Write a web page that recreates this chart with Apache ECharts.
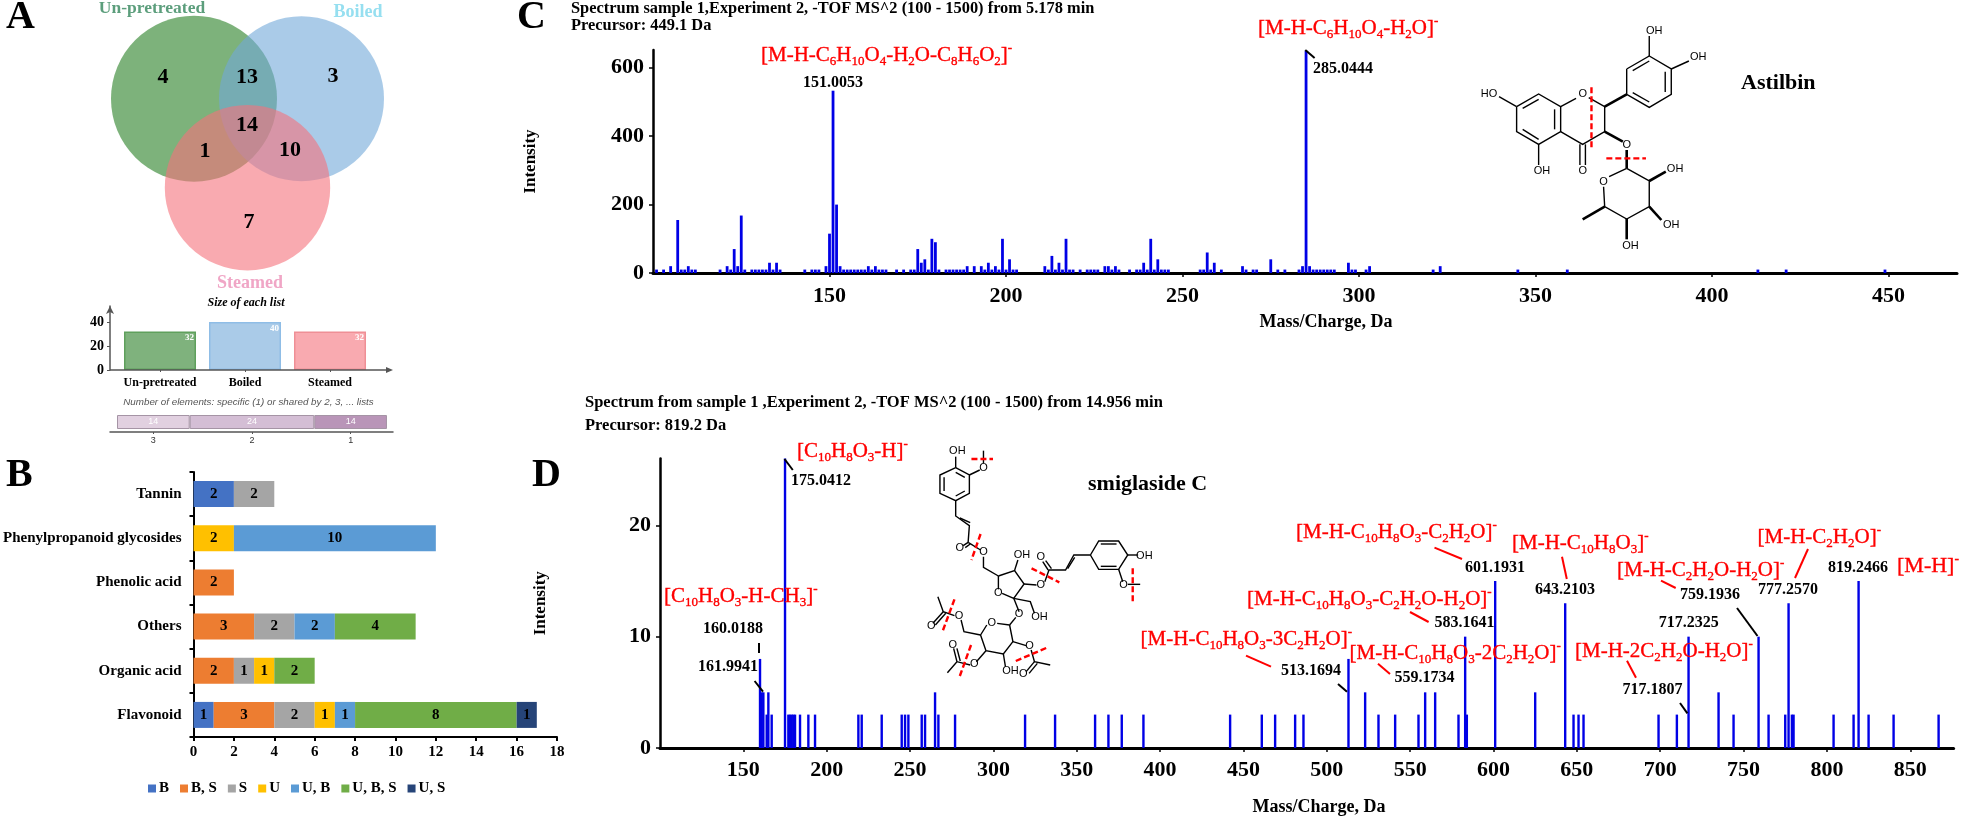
<!DOCTYPE html>
<html>
<head>
<meta charset="utf-8">
<title>Figure</title>
<script src="https://cdn.jsdelivr.net/npm/echarts@6/dist/echarts.min.js"></script>
<style>
html, body { margin: 0; padding: 0; background: #fff; }
#chart { width: 1963px; height: 818px; }
</style>
</head>
<body>
<div id="chart"></div>
<script>
// panel A
const vennCounts = { u: 4, ub: 13, b: 3, ubs: 14, us: 1, bs: 10, s: 7 };
const listNames = ["Un-pretreated", "Boiled", "Steamed"];
const listSizes = [32, 40, 32];
const sharedCounts = [14, 24, 14];
const sharedLabels = ["3", "2", "1"];

// panel B
const classNames = ["Flavonoid", "Organic acid", "Others", "Phenolic acid", "Phenylpropanoid glycosides", "Tannin"];
const groupNames = ["B", "B, S", "S", "U", "U, B", "U, B, S", "U, S"];
const groupB = [1, 0, 0, 0, 0, 2];
const groupBS = [3, 2, 3, 2, 0, 0];
const groupS = [2, 1, 2, 0, 0, 2];
const groupU = [1, 1, 0, 0, 2, 0];
const groupUB = [1, 0, 2, 0, 10, 0];
const groupUBS = [8, 2, 4, 0, 0, 0];
const groupUS = [1, 0, 0, 0, 0, 0];

// panel C, astilbin
const astilbinMz = [101, 103, 105, 107, 108, 109, 110, 111, 112, 119, 121, 122, 123, 124, 125, 126, 128, 129, 130, 131, 132, 133, 134, 135, 136,
  143, 145, 146, 147, 149, 150, 151, 152, 153, 154, 155, 156, 157, 158, 159, 160, 161, 162, 163, 164, 165, 166,
  169, 171, 173, 174, 175, 176, 177, 178, 179, 180, 181, 183, 184, 185, 186, 187, 188, 189, 191, 193, 194, 195, 196, 197, 198, 199, 200, 201, 202, 203,
  211, 212, 213, 214, 215, 216, 217, 218, 219, 221, 223, 224, 225, 226, 228, 229, 230, 231, 232, 235, 237, 238, 239, 240, 241, 242, 243, 244, 245, 246,
  255, 256, 257, 258, 259, 261, 267, 268, 270, 271, 275, 277, 279, 283, 284, 285, 286, 287, 288, 289, 290, 291, 292, 293, 297, 298, 299, 302, 303,
  321, 323, 345, 359, 413, 421, 449];
const astilbinIntensity = [10, 10, 20, 155, 10, 10, 20, 10, 10, 10, 20, 10, 70, 20, 168, 10, 10, 10, 10, 10, 10, 30, 10, 30, 10,
  10, 10, 10, 10, 20, 115, 533, 200, 20, 10, 10, 10, 10, 10, 10, 10, 20, 10, 20, 10, 10, 10,
  10, 10, 10, 10, 70, 30, 40, 10, 100, 90, 10, 10, 10, 10, 10, 10, 10, 20, 20, 20, 10, 30, 10, 20, 10, 100, 10, 40, 10, 10,
  20, 10, 50, 10, 30, 10, 100, 10, 10, 10, 10, 10, 10, 10, 20, 20, 10, 20, 10, 10, 10, 10, 30, 10, 100, 10, 40, 10, 10, 10,
  10, 10, 60, 10, 30, 10, 20, 10, 10, 10, 40, 10, 10, 10, 20, 650, 20, 10, 10, 10, 10, 10, 10, 10, 30, 10, 10, 10, 20,
  10, 20, 10, 10, 10, 10, 10];

// panel D, smiglaside C
const smiglasideMz = [160, 161, 162, 164, 165, 167, 175, 177, 178, 179, 180, 181, 184, 189, 193, 219, 221, 233, 245, 247, 249, 257, 259, 265, 267, 277,
  319, 337, 361, 369, 377, 390, 442, 461, 469, 481, 486, 513, 523, 531, 541, 555, 559, 565, 579, 583, 584, 601, 625, 643, 648, 651, 654,
  699, 710, 717, 735, 744, 759, 765, 775, 777, 779, 780, 804, 816, 819, 825, 840, 867];
const smiglasideIntensity = [8, 5, 5, 3, 5, 3, 26, 3, 3, 3, 3, 3, 3, 3, 3, 3, 3, 3, 3, 3, 3, 3, 3, 5, 3, 3,
  3, 3, 3, 3, 3, 3, 3, 3, 3, 3, 3, 8, 5, 3, 3, 3, 5, 5, 3, 10, 3, 15, 5, 13, 3, 3, 3,
  3, 3, 10, 5, 3, 10, 3, 3, 13, 3, 3, 3, 3, 15, 3, 3, 3];

const serif = "Liberation Serif";
const sans = "Liberation Sans";
const black = "#000";
const red = "#ff0000";
const blue = "#0000e6";

function zip(xs, ys) {
  return xs.map((x, i) => [x, ys[i]]);
}

// text like [M-H-C_10H_8O_3]^- becomes rich text with sub and superscripts
function formula(str, x, y, size) {
  let fs = size || 21;
  let text = str.replace(/_(\d+)/g, "{s|$1}").replace(/\^-/g, "{p|-}");
  let parts = text.split(/(\{[sp]\|[^}]*\})/).filter(Boolean).map((p) => (p[0] === "{" ? p : "{n|" + p + "}"));
  let ink = { fill: red, stroke: red, lineWidth: 0.35, fontFamily: serif };
  return {
    type: "text", x: x, y: y, z: 30,
    style: {
      text: parts.join(""), align: "left", verticalAlign: "middle",
      rich: {
        n: { ...ink, fontSize: fs, lineHeight: fs + 6, verticalAlign: "middle" },
        s: { ...ink, fontSize: fs * 0.62, lineHeight: fs * 0.62, verticalAlign: "bottom" },
        p: { ...ink, fontSize: fs * 0.62, lineHeight: fs * 0.62, verticalAlign: "top" }
      }
    }
  };
}

function label(str, x, y, size, opts) {
  let o = opts || {};
  return {
    type: "text", x: x, y: y, z: 30,
    style: {
      text: str, align: o.align || "left", verticalAlign: "middle",
      fontFamily: o.family || serif, fontSize: size,
      fontWeight: o.weight || "bold", fontStyle: o.style || "normal", fill: o.color || black
    }
  };
}

function leader(x1, y1, x2, y2, color, width) {
  return {
    type: "line", z: 30,
    shape: { x1: x1, y1: y1, x2: x2, y2: y2 },
    style: { stroke: color || black, lineWidth: width || 2 }
  };
}

function circle(cx, cy, r, color) {
  return { type: "circle", z: 5, shape: { cx: cx, cy: cy, r: r }, style: { fill: color } };
}

// structure drawings, read in crop coordinates and mapped back to the page
function structure(conv, bonds, thick, cuts, atoms) {
  let out = [];
  bonds.forEach((b) => {
    let pts = [];
    for (let i = 0; i < b.length; i += 2) pts.push(conv(b[i], b[i + 1]));
    out.push({ type: "polyline", z: 20, shape: { points: pts }, style: { stroke: black, lineWidth: 1.4, fill: null } });
  });
  thick.forEach((b) => {
    let p = conv(b[0], b[1]), q = conv(b[2], b[3]);
    out.push({ type: "line", z: 20, shape: { x1: p[0], y1: p[1], x2: q[0], y2: q[1] }, style: { stroke: black, lineWidth: 2.6 } });
  });
  cuts.forEach((b) => {
    let p = conv(b[0], b[1]), q = conv(b[2], b[3]);
    out.push({ type: "line", z: 21, shape: { x1: p[0], y1: p[1], x2: q[0], y2: q[1] }, style: { stroke: red, lineWidth: 2.4, lineDash: [6, 3] } });
  });
  atoms.forEach((a) => {
    let p = conv(a[1], a[2]);
    out.push({
      type: "text", x: p[0], y: p[1], z: 22,
      style: { text: a[0], align: "center", verticalAlign: "middle", fontFamily: sans, fontSize: 11, fill: black }
    });
  });
  return out;
}

const astilbinGraphic = structure(
  (x, y) => [1100 + x / 1.817, y / 3],
  [
    [757, 320, 797, 282, 837, 320, 837, 395, 797, 433, 757, 395, 757, 320],
    [768, 325, 797, 298], [826, 328, 826, 388], [768, 388, 797, 418],
    [837, 320, 865, 295], [888, 293, 917, 320, 917, 395, 877, 433, 837, 395],
    [872, 433, 872, 495], [882, 433, 882, 495],
    [725, 290, 757, 320], [797, 433, 797, 495],
    [957, 207, 998, 168, 1038, 207, 1038, 283, 998, 322, 957, 283, 957, 207],
    [968, 212, 998, 183], [1027, 215, 1027, 276], [968, 278, 998, 306],
    [998, 168, 998, 108], [1038, 207, 1070, 183],
    [957, 505, 998, 543, 998, 620, 957, 657, 917, 620, 915, 560], [957, 505, 925, 530]
  ],
  [[917, 320, 957, 283], [917, 395, 950, 425], [957, 450, 957, 505], [998, 543, 1028, 515], [998, 620, 1020, 660], [957, 657, 957, 718], [917, 620, 877, 658]],
  [[893, 262, 893, 450], [920, 475, 992, 475]],
  [["HO", 707, 283], ["O", 877, 283], ["OH", 803, 513], ["O", 877, 512], ["OH", 1007, 92], ["OH", 1087, 170], ["O", 957, 435], ["O", 915, 545],
    ["OH", 1045, 506], ["OH", 1038, 675], ["OH", 964, 737]]
);

const smiglasideGraphic = structure(
  (x, y) => [510 + x / 2.412, 380 + y / 3],
  [
    [1075, 263, 1108, 285, 1108, 340, 1075, 362, 1037, 340, 1037, 285, 1075, 263],
    [1075, 277, 1097, 292], [1097, 333, 1075, 348], [1047, 292, 1047, 333],
    [1075, 263, 1075, 230], [1108, 285, 1133, 270], [1142, 250, 1142, 212],
    [1075, 362, 1075, 408, 1108, 437, 1105, 487], [1085, 414, 1110, 428],
    [1105, 487, 1093, 497], [1110, 492, 1098, 503], [1105, 487, 1135, 510],
    [1142, 530, 1142, 562, 1178, 588],
    [1178, 588, 1217, 572, 1240, 612, 1215, 655, 1187, 640], [1178, 588, 1178, 628],
    [1217, 572, 1225, 540], [1240, 612, 1270, 615],
    [1290, 605, 1300, 570, 1340, 570, 1360, 525, 1400, 525],
    [1298, 570, 1285, 545], [1306, 566, 1292, 542], [1345, 566, 1362, 532],
    [1400, 525, 1420, 483, 1468, 483, 1490, 525, 1468, 568, 1420, 568, 1400, 525],
    [1425, 492, 1463, 492], [1425, 559, 1463, 559], [1490, 525, 1515, 525],
    [1468, 568, 1478, 605], [1490, 613, 1520, 613],
    [1215, 655, 1255, 665, 1265, 700], [1215, 655, 1228, 695], [1220, 712, 1205, 735],
    [1205, 735, 1175, 730], [1150, 735, 1135, 765, 1148, 812, 1190, 822, 1213, 785, 1205, 735],
    [1135, 765, 1095, 755, 1088, 720], [1072, 707, 1045, 695, 1032, 650], [1045, 695, 1020, 730], [1051, 700, 1026, 735],
    [1148, 812, 1125, 845], [1110, 855, 1078, 845, 1055, 878], [1078, 845, 1070, 805], [1086, 843, 1078, 805],
    [1190, 822, 1195, 860], [1213, 785, 1245, 797], [1257, 810, 1265, 845, 1303, 855], [1265, 845, 1245, 875], [1272, 850, 1252, 880]
  ],
  [],
  [[1113, 237, 1165, 237], [1135, 462, 1113, 540], [1258, 565, 1325, 607], [1502, 565, 1502, 665], [1072, 658, 1044, 752], [1112, 795, 1085, 888], [1220, 843, 1297, 802]],
  [["OH", 1079, 213], ["O", 1142, 263], ["O", 1085, 505], ["O", 1142, 515], ["OH", 1235, 526], ["O", 1178, 640], ["O", 1280, 615], ["O", 1280, 530],
    ["OH", 1530, 527], ["O", 1480, 615], ["OH", 1277, 710], ["O", 1228, 703], ["O", 1162, 730], ["O", 1083, 707], ["O", 1016, 737], ["O", 1120, 851],
    ["O", 1068, 795], ["OH", 1207, 872], ["O", 1253, 797], ["O", 1238, 882]]
);

const vennLabels = [
  [vennCounts.u, 163, 77], [vennCounts.ub, 247, 77], [vennCounts.b, 333, 76],
  [vennCounts.ubs, 247, 125], [vennCounts.us, 205, 151], [vennCounts.bs, 290, 150], [vennCounts.s, 249, 222]
].map((v) => label(String(v[0]), v[1], v[2], 22, { align: "center" }));

const graphics = [
  label("A", 6, 18, 40), label("B", 6, 476, 40), label("C", 517, 18, 40), label("D", 532, 476, 40),

  circle(194, 98.7, 83, "rgba(56,137,52,0.65)"),
  circle(301.5, 98.7, 82.5, "rgba(113,168,217,0.6)"),
  circle(247.5, 187.7, 82.7, "rgba(245,113,123,0.6)"),
  label("Un-pretreated", 152, 8, 17.5, { align: "center", color: "#5c9e7c" }),
  label("Boiled", 358, 12, 18, { align: "center", color: "#96dff0" }),
  label("Steamed", 250, 283, 18, { align: "center", color: "#f0a6c6" }),
  ...vennLabels,

  label("Size of each list", 246, 303, 12, { align: "center", style: "italic" }),
  { type: "polyline", z: 10, shape: { points: [[110, 370], [388, 370]] }, style: { stroke: "#555", lineWidth: 1.5, fill: null } },
  { type: "polygon", z: 10, shape: { points: [[386, 367], [393, 370], [386, 373]] }, style: { fill: "#555" } },
  label("Number of elements: specific (1) or shared by 2, 3, ... lists", 248.5, 402, 9.8,
    { align: "center", family: sans, weight: "normal", style: "italic", color: "#555" }),

  label("Spectrum sample 1,Experiment 2, -TOF MS^2 (100 - 1500) from 5.178 min", 571, 9, 16.4),
  label("Precursor: 449.1 Da", 571, 26, 16.4),
  formula("[M-H-C_6H_10O_4-H_2O-C_8H_6O_2]^-", 761, 55),
  formula("[M-H-C_6H_10O_4-H_2O]^-", 1258, 28),
  label("151.0053", 803, 83, 16),
  label("285.0444", 1313, 69, 16),
  leader(1305.3, 50, 1314.6, 58),
  label("Astilbin", 1741, 83, 22),
  label("Mass/Charge, Da", 1326, 322, 18, { align: "center" }),
  ...astilbinGraphic,

  label("Spectrum from sample 1 ,Experiment 2, -TOF MS^2 (100 - 1500) from 14.956 min", 585, 403, 16.5),
  label("Precursor: 819.2 Da", 585, 426, 16.5),
  formula("[C_10H_8O_3-H]^-", 797, 451),
  label("175.0412", 791, 481, 16),
  leader(784.5, 459, 792.8, 470),
  label("smiglaside C", 1088, 484, 22),
  formula("[C_10H_8O_3-H-CH_3]^-", 664, 596),
  label("160.0188", 703, 629, 16),
  leader(759, 643, 759, 653),
  label("161.9941", 698, 667, 16),
  leader(754.6, 681, 763, 691.7),

  formula("[M-H-C_10H_8O_3-C_2H_2O]^-", 1296, 532),
  leader(1434.5, 547.7, 1462, 559, red),
  label("601.1931", 1465, 568, 16),
  formula("[M-H-C_10H_8O_3]^-", 1512, 543),
  leader(1562, 556.7, 1566.8, 579, red),
  label("643.2103", 1535, 590, 16),
  formula("[M-H-C_2H_2O]^-", 1757.5, 537),
  leader(1808, 549, 1795, 578, red),
  formula("[M-H-C_2H_2O-H_2O]^-", 1617, 570),
  leader(1661, 580.7, 1675.7, 588, red),
  label("759.1936", 1680, 595, 16),
  label("777.2570", 1758, 590, 16),
  label("819.2466", 1828, 568, 16),
  formula("[M-H]^-", 1897, 566, 22),
  formula("[M-H-C_10H_8O_3-C_2H_2O-H_2O]^-", 1247, 599),
  leader(1410, 612, 1428.6, 622, red),
  label("583.1641", 1434.5, 623, 16),
  label("717.2325", 1658.7, 623, 16),
  leader(1737, 608, 1757.5, 636),
  formula("[M-H-C_10H_8O_3-3C_2H_2O]^-", 1140.6, 639),
  leader(1246, 655.7, 1271, 666.7, red),
  label("513.1694", 1281, 671, 16),
  leader(1338, 684, 1347, 691.7),
  formula("[M-H-C_10H_8O_3-2C_2H_2O]^-", 1349.5, 653),
  leader(1378, 663.7, 1390, 674, red),
  label("559.1734", 1394.6, 678, 16),
  formula("[M-H-2C_2H_2O-H_2O]^-", 1575, 651),
  leader(1627, 660.7, 1636, 677.7, red),
  label("717.1807", 1622.6, 690, 16),
  leader(1680, 703, 1687.4, 713.3),
  label("Mass/Charge, Da", 1319, 807, 18, { align: "center" }),
  ...smiglasideGraphic
];

const groupColors = ["#4472c4", "#ed7d31", "#a5a5a5", "#ffc000", "#5b9bd5", "#70ad47", "#264478"];
const groupValues = [groupB, groupBS, groupS, groupU, groupUB, groupUBS, groupUS];
const listColors = ["#7fb27d", "#aacbe8", "#f9aab0"];
const listBorders = ["#5fa05c", "#8fbde6", "#ef8f96"];
const sharedColors = ["#e1d0e0", "#d4bed5", "#b995b8"];

function tickText(size) {
  return { fontFamily: serif, fontWeight: "bold", fontSize: size, color: black };
}

let run = 0;
const sharedCenters = sharedCounts.map((c) => { let m = run + c / 2; run += c; return m; });

let option = {
  animation: false,
  backgroundColor: "#fff",
  textStyle: { fontFamily: serif },
  graphic: graphics,
  legend: {
    left: 143, top: 776, itemWidth: 8, itemHeight: 8, itemGap: 11, icon: "rect",
    data: groupNames,
    textStyle: { fontFamily: serif, fontWeight: "bold", fontSize: 15, color: black, padding: [0, 0, 0, -2] }
  },
  grid: [
    { left: 117.5, top: 306, width: 255, height: 64 },
    { left: 110, top: 415, width: 283, height: 14 },
    { left: 188, top: 472, width: 369, height: 265 },
    { left: 653, top: 50, width: 1304, height: 223 },
    { left: 660, top: 458.5, width: 1293.6, height: 289.5 }
  ],
  xAxis: [
    {
      gridIndex: 0, type: "category", data: listNames,
      axisLine: { show: false },
      axisTick: { show: true, alignWithLabel: true, length: 2, lineStyle: { color: "#555" } },
      axisLabel: { ...tickText(12), margin: 7, interval: 0 }
    },
    {
      gridIndex: 1, type: "value", min: -1.35, max: 53.16, offset: 3,
      splitLine: { show: false },
      axisLine: { show: true, lineStyle: { color: "#555", width: 1.5 } },
      axisTick: { show: true, length: 2, customValues: sharedCenters, lineStyle: { color: "#555" } },
      axisLabel: {
        customValues: sharedCenters, margin: 4,
        fontFamily: sans, fontSize: 9, color: "#333",
        formatter: (v) => sharedLabels[sharedCenters.indexOf(v)] || ""
      }
    },
    {
      gridIndex: 2, type: "value", min: 0, max: 18, interval: 2,
      splitLine: { show: false },
      axisLine: { show: true, lineStyle: { color: black, width: 2 } },
      axisTick: { show: true, length: 4, lineStyle: { color: black, width: 2 } },
      axisLabel: { ...tickText(15), margin: 8 }
    },
    {
      gridIndex: 3, type: "value", min: 100, max: 469.4,
      splitLine: { show: false },
      axisLine: { lineStyle: { color: black, width: 3 } },
      axisTick: { show: true, length: 4, customValues: [150, 200, 250, 300, 350, 400, 450], lineStyle: { color: black, width: 1.5 } },
      axisLabel: { ...tickText(22), margin: 12, customValues: [150, 200, 250, 300, 350, 400, 450] }
    },
    {
      gridIndex: 4, type: "value", min: 100, max: 876,
      splitLine: { show: false },
      axisLine: { lineStyle: { color: black, width: 3 } },
      axisTick: { show: true, length: 4, customValues: [150, 200, 250, 300, 350, 400, 450, 500, 550, 600, 650, 700, 750, 800, 850], lineStyle: { color: black, width: 1.5 } },
      axisLabel: { ...tickText(22), margin: 11, customValues: [150, 200, 250, 300, 350, 400, 450, 500, 550, 600, 650, 700, 750, 800, 850] }
    }
  ],
  yAxis: [
    {
      gridIndex: 0, type: "value", min: 0, max: 53.33, offset: 7.5,
      splitLine: { show: false },
      axisLine: { show: true, symbol: ["none", "arrow"], symbolSize: [6, 8], lineStyle: { color: "#555", width: 1.5 } },
      axisTick: { show: true, length: 3, customValues: [0, 20, 40], lineStyle: { color: "#555" } },
      axisLabel: { ...tickText(14), margin: 6, customValues: [0, 20, 40] }
    },
    { gridIndex: 1, type: "category", data: ["n"], show: false },
    {
      gridIndex: 2, type: "category", data: classNames,
      axisLine: { show: true, lineStyle: { color: black, width: 2 } },
      axisTick: { show: true, length: 4, lineStyle: { color: black, width: 2 } },
      axisLabel: { ...tickText(15), margin: 12 }
    },
    {
      gridIndex: 3, type: "value", min: 0, max: 652,
      name: "Intensity", nameLocation: "middle", nameGap: 114,
      nameTextStyle: tickText(17),
      splitLine: { show: false },
      axisLine: { show: true, lineStyle: { color: black, width: 2.5 } },
      axisTick: { show: true, length: 4, customValues: [0, 200, 400, 600], lineStyle: { color: black, width: 1.5 } },
      axisLabel: { ...tickText(22), margin: 9, customValues: [0, 200, 400, 600] }
    },
    {
      gridIndex: 4, type: "value", min: 0, max: 26,
      name: "Intensity", nameLocation: "middle", nameGap: 111,
      nameTextStyle: tickText(17),
      splitLine: { show: false },
      axisLine: { show: true, lineStyle: { color: black, width: 2.5 } },
      axisTick: { show: true, length: 4, customValues: [0, 10, 20], lineStyle: { color: black, width: 1.5 } },
      axisLabel: { ...tickText(22), margin: 9, customValues: [0, 10, 20] }
    }
  ],
  series: [
    {
      type: "bar", xAxisIndex: 0, yAxisIndex: 0, barWidth: 72,
      data: listSizes.map((v, i) => ({
        value: v,
        itemStyle: { color: listColors[i], borderColor: listBorders[i], borderWidth: 1.5 }
      })),
      label: { show: true, position: "insideTopRight", distance: 2, color: "#fff", fontFamily: serif, fontWeight: "bold", fontSize: 9 }
    },
    ...sharedCounts.map((c, i) => ({
      type: "bar", xAxisIndex: 1, yAxisIndex: 1, stack: "shared", barWidth: 14,
      data: [c],
      itemStyle: { color: sharedColors[i], borderColor: "#a594a5", borderWidth: 1 },
      label: { show: true, position: "inside", color: "#fff", fontFamily: sans, fontSize: 9 }
    })),
    ...groupNames.map((name, i) => ({
      name: name, type: "bar", xAxisIndex: 2, yAxisIndex: 2, stack: "cls", barWidth: 26,
      itemStyle: { color: groupColors[i] },
      data: groupValues[i].map((v) => v || null),
      label: { show: true, position: "inside", ...tickText(15) }
    })),
    {
      type: "bar", xAxisIndex: 3, yAxisIndex: 3, barWidth: 2.8,
      itemStyle: { color: blue },
      data: zip(astilbinMz, astilbinIntensity)
    },
    {
      type: "bar", xAxisIndex: 4, yAxisIndex: 4, barWidth: 2.4,
      itemStyle: { color: blue },
      data: zip(smiglasideMz, smiglasideIntensity)
    }
  ]
};

let chart = echarts.init(document.getElementById("chart"));
chart.setOption(option);
</script>
</body>
</html>
